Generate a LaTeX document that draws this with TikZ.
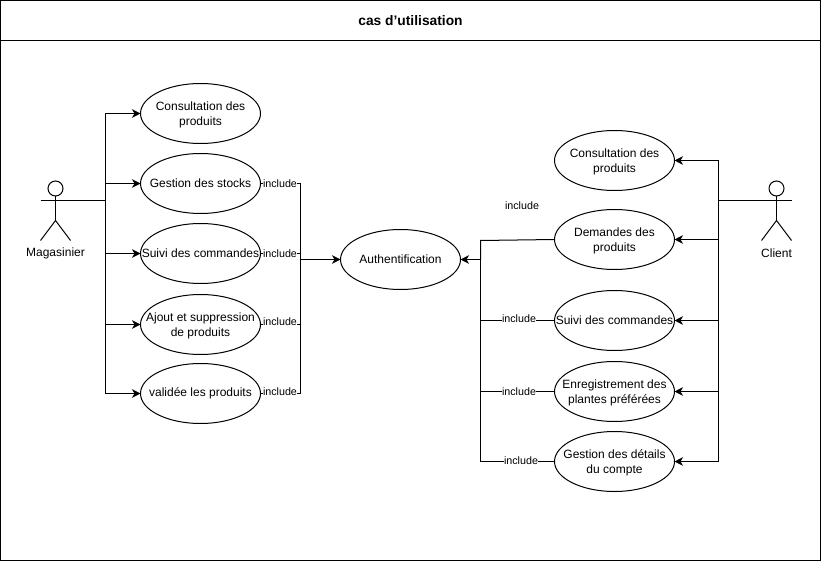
\documentclass[tikz,border=0pt]{standalone}
\usepackage{fontspec}
\setmainfont{Liberation Sans}
\usetikzlibrary{arrows.meta,shapes.geometric}
\tikzset{
  usecase/.style={draw=black,line width=1pt,ellipse,minimum width=120pt,minimum height=60pt,inner sep=0pt,outer sep=0pt,fill=white,
    label={[inner sep=0pt,align=center,yshift=-1pt,font=\fontsize{12}{15}\selectfont]center:{#1}}},
  usecaseone/.style={draw=black,line width=1pt,ellipse,minimum width=120pt,minimum height=60pt,inner sep=0pt,outer sep=0pt,fill=white,
    label={[inner sep=0pt,align=center,yshift=0.5pt,font=\fontsize{12}{15}\selectfont]center:{#1}}},
  lbl/.style={inner sep=0pt,font=\fontsize{12}{15}\selectfont,align=center},
  inc/.style={inner sep=0.5pt,fill=white,font=\fontsize{10.7}{13}\selectfont},
  conn/.style={draw=black,line width=1pt},
  arr/.style={conn,-{Stealth[length=8.5pt,width=8.5pt,inset=2.5pt]}},
  stick/.style={draw=black,line width=1pt}
}
\begin{document}
\begin{tikzpicture}[x=1pt,y=-1pt]
\useasboundingbox (0,0) rectangle (821,561);
\node[draw=black,line width=1pt,minimum width=820pt,minimum height=560pt,inner sep=0pt,outer sep=0pt] (frame) at (410.5,280.5) {};
\node[draw=black,line width=1pt,minimum width=820pt,minimum height=40pt,inner sep=0pt,outer sep=0pt,font=\fontsize{13.8}{15}\selectfont\bfseries] (title) at (410.5,20.5) {cas d'utilisation};
% left use cases
\node[usecase={Consultation des\\produits}] (l1) at (200.5,113.5) {};
\node[usecaseone={Gestion des stocks}] (l2) at (200.5,183.5) {};
\node[usecaseone={Suivi des commandes}] (l3) at (200.5,253.5) {};
\node[usecase={Ajout et suppression\\de produits}] (l4) at (200.5,324.5) {};
\node[usecaseone={validée les produits}] (l5) at (200.5,393.5) {};
\node[usecaseone={Authentification}] (auth) at (400.5,259.5) {};
% right use cases
\node[usecase={Consultation des\\produits}] (r1) at (614.5,160.5) {};
\node[usecase={Demandes des\\produits}] (r2) at (614.5,239.5) {};
\node[usecaseone={Suivi des commandes}] (r3) at (614.5,320.5) {};
\node[usecase={Enregistrement des\\plantes préférées}] (r4) at (614.5,391.5) {};
\node[usecase={Gestion des détails\\du compte}] (r5) at (614.5,461.5) {};
% left actor
\node[draw=black,line width=1pt,circle,minimum size=15pt,inner sep=0pt,outer sep=0pt] (ah) at (55.5,188.5) {};
\coordinate (ahip) at (55.5,220.5);
\coordinate (aarmL) at (40.5,200.5);
\coordinate (aarmR) at (70.5,200.5);
\coordinate (alegL) at (40.5,240.5);
\coordinate (alegR) at (70.5,240.5);
\draw[stick] (ah.south) -- (ahip);
\draw[stick] (aarmL) -- (aarmR);
\draw[stick] (alegL) -- (ahip) -- (alegR);
\node[lbl] (alabel) at (55.5,253.5) {Magasinier};
% right actor
\node[draw=black,line width=1pt,circle,minimum size=15pt,inner sep=0pt,outer sep=0pt] (bh) at (776.5,188.5) {};
\coordinate (bhip) at (776.5,220.5);
\coordinate (barmL) at (761.5,200.5);
\coordinate (barmR) at (791.5,200.5);
\coordinate (blegL) at (761.5,240.5);
\coordinate (blegR) at (791.5,240.5);
\draw[stick] (bh.south) -- (bhip);
\draw[stick] (barmL) -- (barmR);
\draw[stick] (blegL) -- (bhip) -- (blegR);
\node[lbl] (blabel) at (776.5,253.5) {Client};
% left actor connectors
\coordinate (ja) at (105.5,200.5);
\draw[conn] (aarmR) -- (ja);
\draw[arr] (ja) |- (l1.west);
\draw[arr] (ja) |- (l2.west);
\draw[arr] (ja) |- (l3.west);
\draw[arr] (ja) |- (l4.west);
\draw[arr] (ja) |- (l5.west);
% left include connectors
\coordinate (jl) at (300.5,259.5);
\draw[conn] (l2.east) -| (jl);
\draw[conn] (l3.east) -| (jl);
\draw[conn] (l4.east) -| (jl);
\draw[conn] (l5.east) -| (jl);
\draw[arr] (jl) -- (auth.west);
\node[inc] (il2) at (280,183.5) {include};
\node[inc] (il3) at (280,254) {include};
\node[inc] (il4) at (280,321.5) {include};
\node[inc] (il5) at (280,391.5) {include};
% right actor connectors
\coordinate (jb) at (718,200.5);
\draw[conn] (barmL) -- (jb);
\draw[arr] (jb) |- (r1.east);
\draw[arr] (jb) |- (r2.east);
\draw[arr] (jb) |- (r3.east);
\draw[arr] (jb) |- (r4.east);
\draw[arr] (jb) |- (r5.east);
% right include connectors
\coordinate (jr) at (480.5,259.5);
\draw[conn] (r2.west) -- (480.5,240.5) -- (jr);
\draw[conn] (r3.west) -| (jr);
\draw[conn] (r4.west) -| (jr);
\draw[conn] (r5.west) -| (jr);
\draw[arr] (jr) -- (auth.east);
\node[inc] (ir2) at (522,205.5) {include};
\node[inc] (ir3) at (519,318.5) {include};
\node[inc] (ir4) at (519,391.5) {include};
\node[inc] (ir5) at (521,460.5) {include};
\end{tikzpicture}
\end{document}
